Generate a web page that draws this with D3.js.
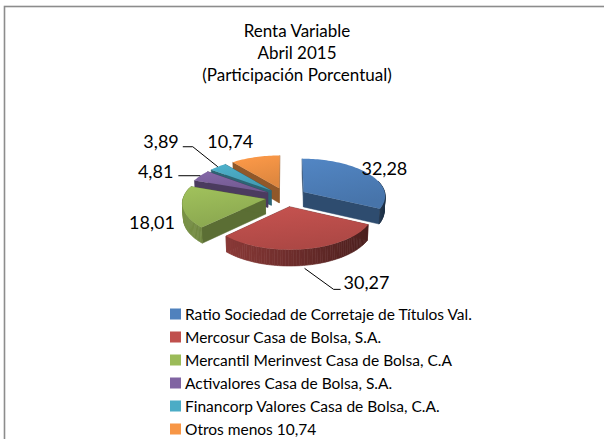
<!DOCTYPE html>
<html>
<head>
<meta charset="utf-8">
<script src="https://cdn.jsdelivr.net/npm/d3@7"></script>
<style>
  body { margin: 0; background: #fff; }
  text { font-family: Lato, "Open Sans", sans-serif; fill: #000; }
</style>
</head>
<body>
<svg id="chart" width="604" height="439"></svg>
<script>
// chart data
const titleLines = ["Renta Variable", "Abril 2015", "(Participación Porcentual)"];
const categories = [
  "Ratio Sociedad de Corretaje de Títulos Val.",
  "Mercosur Casa de Bolsa, S.A.",
  "Mercantil Merinvest Casa de Bolsa, C.A",
  "Activalores Casa de Bolsa, S.A.",
  "Financorp Valores Casa de Bolsa, C.A.",
  "Otros menos 10,74"
];
const shares = [32.28, 30.27, 18.01, 4.81, 3.89, 10.74];
const colors = ["#4F81BD", "#C0504D", "#9BBB59", "#8064A2", "#4BACC6", "#F79646"];

const svg = d3.select("#chart");

// chart frame
svg.append("rect")
  .attr("x", 4.5).attr("y", 6.5)
  .attr("width", 700).attr("height", 500)
  .attr("fill", "none")
  .attr("stroke", "#8c8c8c")
  .attr("stroke-width", 1.6);

// title
svg.append("g").selectAll("text")
  .data(titleLines)
  .join("text")
  .attr("x", 297)
  .attr("y", (d, i) => 36.5 + i * 22.3)
  .attr("text-anchor", "middle")
  .attr("font-size", 17)
  .text(d => d);

// 3d pie geometry
const cx = 286, cy = 197;
const R = 82, H = 17, explode = 21;
const tilt = 27 * Math.PI / 180;
const camDist = 800;

function project(X, D, Y) {
  const dist = camDist + D * Math.cos(tilt) - Y * Math.sin(tilt);
  const s = camDist / dist;
  return [cx + X * s, cy - (D * Math.sin(tilt) + Y * Math.cos(tilt)) * s];
}

const pie = d3.pie().sort(null).value(d => d);
const arcs = pie(shares).map((a, i) => {
  const mid = (a.startAngle + a.endAngle) / 2;
  return {
    ...a, i, mid,
    ox: explode * Math.sin(mid),
    od: explode * Math.cos(mid)
  };
});

function pt(a, theta, r, Y) {
  return project(a.ox + r * Math.sin(theta), a.od + r * Math.cos(theta), Y);
}

function arcAngles(a0, a1) {
  const n = Math.max(2, Math.ceil((a1 - a0) / 0.03));
  return d3.range(n + 1).map(k => a0 + (a1 - a0) * k / n);
}

const line = d3.line().curve(d3.curveLinearClosed);

// gradients for top faces
const defs = svg.append("defs");
colors.forEach((c, i) => {
  const g = defs.append("linearGradient")
    .attr("id", "top" + i)
    .attr("x1", 0).attr("y1", 0).attr("x2", 0.3).attr("y2", 1);
  g.append("stop").attr("offset", "0%").attr("stop-color", d3.color(c).brighter(0.1));
  g.append("stop").attr("offset", "100%").attr("stop-color", d3.color(c).darker(0.3));
});

const pieG = svg.append("g");

// back slices first
const order = arcs.slice().sort((p, q) => Math.cos(q.mid) - Math.cos(p.mid));

order.forEach(a => {
  const g = pieG.append("g");
  const base = d3.color(colors[a.i]);
  const apexTop = project(a.ox, a.od, 0);
  const apexBot = project(a.ox, a.od, -H);

  // radial walls
  [a.startAngle, a.endAngle].forEach(t => {
    g.append("path")
      .attr("d", line([apexTop, pt(a, t, R, 0), pt(a, t, R, -H), apexBot]))
      .attr("fill", base.darker(1.5))
      .attr("stroke", base.darker(1.5))
      .attr("stroke-width", 0.5);
  });

  // outer wall, shaded by facing direction
  const angs = arcAngles(a.startAngle, a.endAngle);
  const shade = d3.interpolateRgb(base.darker(0.7), base.darker(2.8));
  for (let k = 0; k < angs.length - 1; k++) {
    const t0 = angs[k], t1 = angs[k + 1], tm = (t0 + t1) / 2;
    if (Math.cos(tm) > 0.3) continue;
    const col = shade((1 + Math.sin(tm)) / 2);
    g.append("path")
      .attr("d", line([pt(a, t0, R, 0), pt(a, t1, R, 0), pt(a, t1, R, -H), pt(a, t0, R, -H)]))
      .attr("fill", col)
      .attr("stroke", col)
      .attr("stroke-width", 0.6);
  }

  // top face
  g.append("path")
    .attr("d", line([apexTop, ...angs.map(t => pt(a, t, R, 0))]))
    .attr("fill", `url(#top${a.i})`);
});

// data labels, placed off each slice's outer edge
const labelLayout = [
  { from: "top", anchor: "start", dx: -7, dy: 1 },
  { from: "bottom", anchor: "start", leader: [[0, 3], [29, 24], [36, 24]], dx: 39, dy: 24 },
  { from: "top", anchor: "end", dx: -8, dy: 22 },
  { from: "top", anchor: "end", leader: [[0, 0], [-22, 0]], dx: -27, dy: 2 },
  { from: "top", anchor: "end", leader: [[0, 0], [-25, -20], [-35, -20]], dx: -39, dy: -19 },
  { from: "top", anchor: "end", dx: -2, dy: -9 }
];
const fmt = v => v.toFixed(2).replace(".", ",");
const labelG = svg.append("g");

arcs.forEach(a => {
  const lay = labelLayout[a.i];
  const [ax, ay] = pt(a, a.mid, R, lay.from === "bottom" ? -H : 0);
  if (lay.leader) {
    labelG.append("path")
      .attr("d", d3.line()(lay.leader.map(([x, y]) => [ax + x, ay + y])))
      .attr("fill", "none")
      .attr("stroke", "#000")
      .attr("stroke-width", 1);
  }
  labelG.append("text")
    .attr("x", ax + lay.dx)
    .attr("y", ay + lay.dy)
    .attr("text-anchor", lay.anchor)
    .attr("font-size", 18)
    .text(fmt(shares[a.i]));
});

// legend
const legendY = d3.scalePoint().domain(categories).range([314, 429]);
const legend = svg.append("g").selectAll("g")
  .data(categories)
  .join("g")
  .attr("transform", d => `translate(170, ${legendY(d)})`);

legend.append("rect")
  .attr("x", 0).attr("y", -5.5)
  .attr("width", 11).attr("height", 11)
  .attr("fill", (d, i) => colors[i]);

legend.append("text")
  .attr("x", 15)
  .attr("dy", "0.36em")
  .attr("font-size", 15.5)
  .text(d => d);
</script>
</body>
</html>
